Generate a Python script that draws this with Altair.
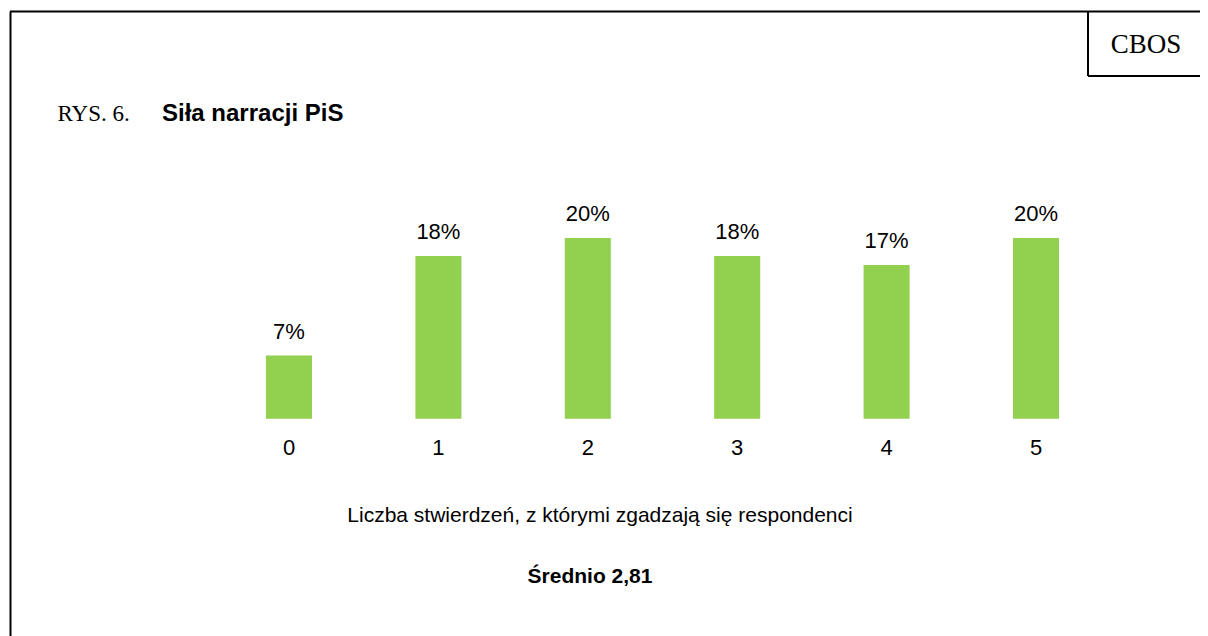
import altair as alt
import pandas as pd

# ---- data ----
categories = ["0", "1", "2", "3", "4", "5"]
values = [7, 18, 20, 18, 17, 20]
value_labels = [f"{v}%" for v in values]

title_prefix = "RYS. 6."
title_text = "Siła narracji PiS"
source_text = "CBOS"
x_title = "Liczba stwierdzeń, z którymi zgadzają się respondenci"
mean_text = "Średnio 2,81"

df = pd.DataFrame({"cat": categories, "v": values, "lab": value_labels})

# ---- layout (page pixel coordinates) ----
CANVAS_W, CANVAS_H = 1192, 628
PX0, PY0 = 214.3, 238.0          # plot-area origin on the page
W, H = 896.4, 180.8              # plot-area size
SANS = "Liberation Sans"
SERIF = "Liberation Serif"

pad = {
    "left": PX0 - 8,
    "top": PY0 - 8,
    "right": CANVAS_W - (PX0 - 8) - W,
    "bottom": CANVAS_H - (PY0 - 8) - H,
}

one = pd.DataFrame({"a": [0]})


def txt(text, x, y, size, font, weight="normal", align="left"):
    return alt.Chart(pd.DataFrame({"t": [text]})).mark_text(
        align=align, baseline="alphabetic", fontSize=size, font=font,
        fontWeight=weight, color="black"
    ).encode(x=alt.value(x - PX0), y=alt.value(y - PY0), text="t:N")


def line(x1, y1, x2, y2, w=2):
    return alt.Chart(one).mark_rule(strokeWidth=w, color="black").encode(
        x=alt.value(x1 - PX0), x2=alt.value(x2 - PX0),
        y=alt.value(y1 - PY0), y2=alt.value(y2 - PY0)
    )


base = alt.Chart(df).encode(
    x=alt.X(
        "cat:N", sort=categories,
        scale=alt.Scale(paddingInner=0.692, paddingOuter=0.346),
        axis=alt.Axis(
            title=None, labelAngle=0, labelFontSize=22, labelFont=SANS,
            labelColor="black", labelPadding=19, tickSize=0, ticks=False,
            domain=False, grid=False
        ),
    )
)

yenc = alt.Y("v:Q", scale=alt.Scale(domain=[0, 20], nice=False, zero=True), axis=None)

bars = base.mark_bar(color="#92D050").encode(y=yenc)
labels = base.mark_text(
    dy=-17, baseline="alphabetic", fontSize=22, font=SANS, color="black"
).encode(y=yenc, text="lab:N")

decor = [
    line(10, 11.5, 1210, 11.5),
    line(10.5, 11.5, 10.5, 640),
    line(1088, 11.5, 1088, 76),
    line(1088, 76, 1210, 76),
    txt(source_text, 1146, 53, 27, SERIF, align="center"),
    txt(title_prefix, 57.5, 121, 23, SERIF),
    txt(title_text, 162, 121, 24, SANS, weight="bold"),
    txt(x_title, 600, 522, 21, SANS, align="center"),
    txt(mean_text, 590, 583, 21, SANS, weight="bold", align="center"),
]

chart = alt.layer(bars, labels, *decor).properties(
    width=W, height=H, padding=pad,
    autosize=alt.AutoSizeParams(type="none"),
    background="white",
).configure_view(stroke=None)

chart.save("out.html", embed_options={"renderer": "svg", "actions": False})
